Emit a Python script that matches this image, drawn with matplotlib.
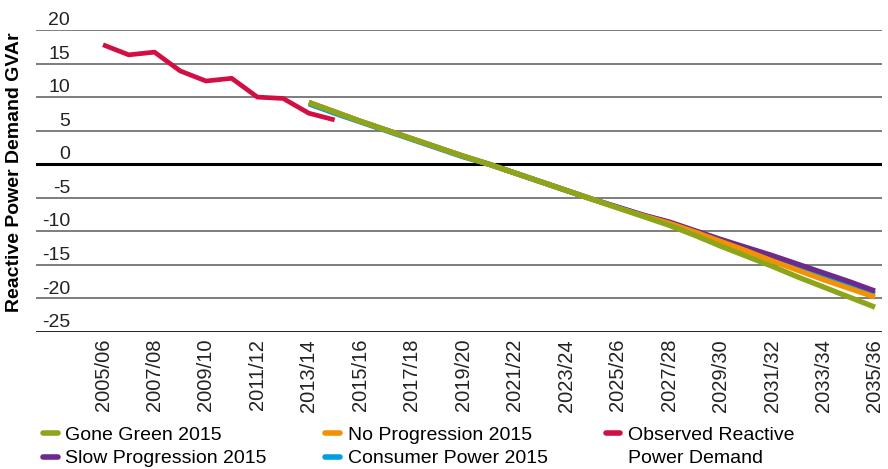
import matplotlib
matplotlib.use("Agg")
import matplotlib.pyplot as plt
from matplotlib.lines import Line2D

plt.rcParams['font.family'] = ['Liberation Sans', 'DejaVu Sans']

# Years 2005/06 .. 2035/36
years = [f"{y}/{str(y + 1)[-2:]}" for y in range(2005, 2036)]

# Observed reactive power demand (2005/06 .. 2014/15)
observed = [17.8, 16.3, 16.7, 13.9, 12.4, 12.8, 10.0, 9.8, 7.6, 6.6]

# Scenario projections from 2013/14 to 2035/36
gone_green = [9.2, 7.8, 6.4, 5.1, 3.8, 2.5, 1.2, 0.0, -1.3, -2.6, -3.9, -5.2,
              -6.5, -7.8, -9.1, -10.6, -12.2, -13.7, -15.2, -16.8, -18.3, -19.8, -21.3]
slow_prog = [9.2, 7.8, 6.4, 5.1, 3.8, 2.5, 1.2, 0.0, -1.3, -2.6, -3.9, -5.2,
             -6.4, -7.6, -8.6, -9.9, -11.2, -12.4, -13.6, -14.9, -16.2, -17.5, -18.9]
no_prog = [9.2, 7.8, 6.4, 5.1, 3.8, 2.5, 1.2, 0.0, -1.3, -2.6, -3.9, -5.2,
           -6.5, -7.7, -8.8, -10.1, -11.5, -12.9, -14.4, -15.8, -17.2, -18.5, -19.8]
consumer = [9.0, 7.6, 6.3, 5.0, 3.7, 2.4, 1.1, 0.0, -1.3, -2.6, -3.9, -5.2,
            -6.4, -7.6, -8.7, -10.0, -11.3, -12.6, -13.8, -15.2, -16.6, -17.9, -19.3]

yticks = list(range(-25, 21, 5))

green = '#8CA51A'
orange = '#F39200'
red = '#D20F44'
purple = '#6B2A8C'
blue = '#009FE3'

fig = plt.figure(figsize=(8.88, 4.69), dpi=100)
ax = fig.add_axes([36 / 888, 1 - 332 / 469, (882 - 36) / 888, (332 - 30) / 469])

x_obs = list(range(len(observed)))
x_proj = list(range(8, 8 + len(gone_green)))

# grid lines, labels sit just above each line
for v in yticks:
    if v == 0:
        ax.axhline(v, color='black', lw=2.2, zorder=1)
    elif v == -25:
        ax.axhline(v, color='black', lw=1.2, zorder=1)
    else:
        ax.axhline(v, color='#5a5a5a', lw=1.1, zorder=1)
    ax.annotate(str(v), xy=((70 - 36) / 846, v), xycoords=('axes fraction', 'data'),
                xytext=(0, 3.5), textcoords='offset points', ha='right', va='baseline',
                fontsize=14, color='#222222')

lw = 3.8
ax.plot(x_proj, consumer, color=blue, lw=lw, solid_capstyle='butt', zorder=2)
ax.plot(x_proj, slow_prog, color=purple, lw=lw, solid_capstyle='butt', zorder=3)
ax.plot(x_proj, no_prog, color=orange, lw=lw, solid_capstyle='butt', zorder=4)
ax.plot(x_proj, gone_green, color=green, lw=lw, solid_capstyle='butt', zorder=5)
ax.plot(x_obs, observed, color=red, lw=3.4, solid_capstyle='butt', zorder=6)

ax.set_ylim(-25, 20)
ax.set_xlim(-(103 - 36) / 25.73, 30 + (882 - 875) / 25.73)
ax.set_yticks([])
ax.set_xticks(range(0, 31, 2))
ax.set_xticklabels(years[::2], rotation=90, fontsize=14.5, color='#222222')
ax.tick_params(axis='x', length=0, pad=5)
for s in ax.spines.values():
    s.set_visible(False)

fig.text(15 / 888, 1 - 172 / 469, 'Reactive Power Demand GVAr', rotation=90,
         ha='center', va='center', fontsize=14, fontweight='bold')

handles = [
    Line2D([], [], color=green, lw=4, solid_capstyle='round'),
    Line2D([], [], color=purple, lw=4, solid_capstyle='round'),
    Line2D([], [], color=orange, lw=4, solid_capstyle='round'),
    Line2D([], [], color=blue, lw=4, solid_capstyle='round'),
    Line2D([], [], color=red, lw=4, solid_capstyle='round'),
    Line2D([], [], color='none', lw=4),
]
labels = ['Gone Green 2015', 'Slow Progression 2015', 'No Progression 2015',
          'Consumer Power 2015', 'Observed Reactive', 'Power Demand']
fig.legend(handles, labels, ncol=3, loc='upper left',
           bbox_to_anchor=(43 / 888, 1 - 426 / 469), frameon=False,
           fontsize=14, handlelength=0.75, handletextpad=0.4,
           columnspacing=3.0, labelspacing=0.32, borderpad=0, borderaxespad=0)

fig.savefig('out.png', dpi=100)
